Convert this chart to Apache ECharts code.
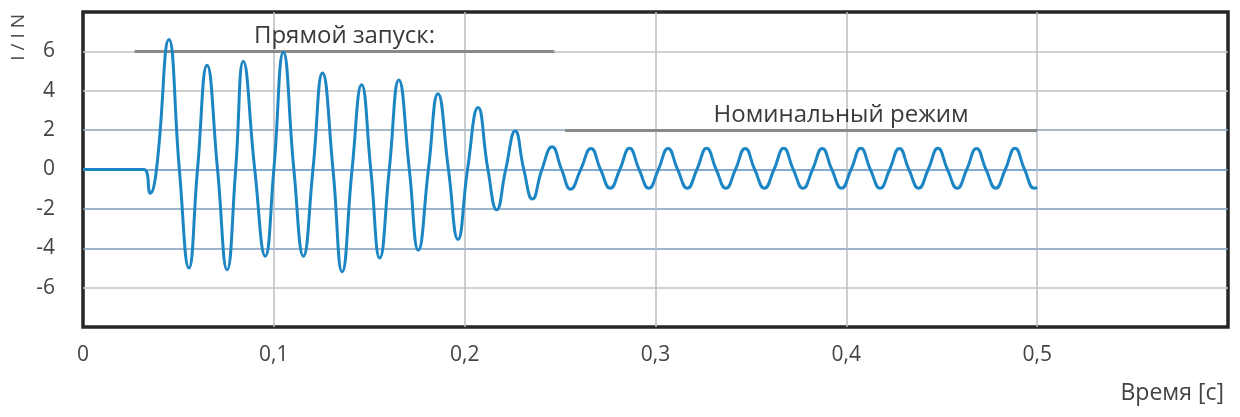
<!DOCTYPE html>
<html>
<head>
<meta charset="utf-8">
<script src="https://cdn.jsdelivr.net/npm/echarts@6/dist/echarts.min.js"></script>
<style>
html,body{margin:0;padding:0;background:#fff;}
#chart{width:1240px;height:417px;}
</style>
</head>
<body>
<div id="chart"></div>
<script>
// ---- data ----
const timeS = [
  0, 0.032, 0.0352, 0.0385, 0.045, 0.0505, 0.0555, 0.060, 0.065, 0.0705,
  0.0755, 0.080, 0.084, 0.090, 0.0955, 0.100, 0.105, 0.1105, 0.1155, 0.1205,
  0.1255, 0.131, 0.1358, 0.141, 0.146, 0.1508, 0.1555, 0.1605, 0.1655, 0.171,
  0.1757, 0.181, 0.186, 0.1915, 0.1965, 0.2015, 0.207, 0.2122, 0.2168, 0.2215,
  0.2265, 0.231, 0.2355, 0.2405, 0.2458, 0.2508, 0.2555, 0.2608,
  0.2662, 0.2712, 0.2763, 0.2813,
  0.2864, 0.2914, 0.2965, 0.3015,
  0.3066, 0.3116, 0.3167, 0.3217,
  0.3268, 0.3318, 0.3369, 0.3419,
  0.3470, 0.3520, 0.3571, 0.3621,
  0.3672, 0.3722, 0.3773, 0.3823,
  0.3874, 0.3924, 0.3975, 0.4025,
  0.4076, 0.4126, 0.4177, 0.4227,
  0.4278, 0.4328, 0.4379, 0.4429,
  0.4480, 0.4530, 0.4581, 0.4631,
  0.4682, 0.4732, 0.4783, 0.4833,
  0.4884, 0.4934, 0.4985, 0.5000
];
const currentIn = [
  0, 0, -1.2, 0, 6.6, 0, -5.0, 0, 5.3, 0,
  -5.1, 0, 5.5, 0, -4.4, 0, 5.95, 0, -4.4, 0,
  4.9, 0, -5.2, 0, 4.3, 0, -4.5, 0, 4.55, 0,
  -4.1, 0, 3.85, 0, -3.55, 0, 3.15, 0, -2.05, 0,
  1.95, 0, -1.5, 0, 1.15, 0, -1.0, 0,
  1.07, 0, -0.95, 0,
  1.08, 0, -0.95, 0,
  1.07, 0, -0.95, 0,
  1.08, 0, -0.95, 0,
  1.07, 0, -0.95, 0,
  1.08, 0, -0.95, 0,
  1.07, 0, -0.95, 0,
  1.08, 0, -0.95, 0,
  1.07, 0, -0.95, 0,
  1.08, 0, -0.95, 0,
  1.07, 0, -0.95, 0,
  1.08, 0, -0.95, -0.93
];
const xTickValues = [0, 0.1, 0.2, 0.3, 0.4, 0.5, 0.6];
const xTickLabels = ['0', '0,1', '0,2', '0,3', '0,4', '0,5', ''];
const yTickValues = [-8, -6, -4, -2, 0, 2, 4, 6, 8];
const yTickLabels = ['', '-6', '-4', '-2', '0', '2', '4', '6', ''];
const annotationTexts = ['Прямой запуск:', 'Номинальный режим'];
const annotationStart = [0.027, 0.2526];
const annotationEnd = [0.247, 0.5];
const annotationLevel = [6, 2];
const yAxisTitle = 'I / I N';
const xAxisTitle = 'Время [с]';

// ---- chart ----
const seriesData = timeS.map((t, i) => [t, currentIn[i]]);
const FONT = 'Open Sans';
const chart = echarts.init(document.getElementById('chart'), null, {renderer: 'canvas'});

const markLines = annotationTexts.map((txt, i) => ([
  {coord: [annotationStart[i], annotationLevel[i]],
   label: {show: true, formatter: txt, position: 'insideMiddleTop', distance: 3,
           offset: i === 1 ? [40, 0] : [0, 0],
           color: '#3a3a3a', fontSize: 24, fontFamily: FONT}},
  {coord: [annotationEnd[i], annotationLevel[i]]}
]));

chart.setOption({
  animation: false,
  backgroundColor: '#ffffff',
  grid: {left: 83, right: 12, top: 12, bottom: 90, show: true,
         borderColor: '#262626', borderWidth: 3.5, backgroundColor: 'transparent'},
  xAxis: {
    type: 'value', min: 0, max: 0.6, interval: 0.1,
    axisLine: {show: false}, axisTick: {show: false},
    axisLabel: {margin: 18, color: '#444', fontSize: 21, fontFamily: FONT,
      formatter: v => { const k = xTickValues.findIndex(x => Math.abs(x - v) < 1e-6); return k >= 0 ? xTickLabels[k] : ''; }},
    splitLine: {show: true, showMinLine: false, showMaxLine: false,
      lineStyle: {color: '#b9bcc2', width: 1.5}}
  },
  yAxis: {
    type: 'value', min: -8, max: 8, interval: 2,
    axisLine: {show: false}, axisTick: {show: false},
    axisLabel: {margin: 28, color: '#444', fontSize: 21, fontFamily: FONT,
      formatter: v => { const k = yTickValues.indexOf(v); return k >= 0 ? yTickLabels[k] : ''; }},
    splitLine: {show: true, showMinLine: false, showMaxLine: false, lineStyle: {width: 1.5,
      color: ['#c2c2c2', '#7f9cbc', '#7f9cbc', '#5d8fc2', '#8aa2bd', '#c2c2c2', '#c2c2c2']}}
  },
  graphic: [
    {type: 'text', left: 9, top: 14, rotation: Math.PI / 2,
     style: {text: yAxisTitle, fill: '#4a4a4a', fontSize: 19, fontFamily: FONT}},
    {type: 'text', right: 16, top: 382,
     style: {text: xAxisTitle, fill: '#444', fontSize: 23, fontFamily: FONT}}
  ],
  series: [{
    type: 'line',
    data: seriesData,
    smooth: 0.5,
    showSymbol: false,
    lineStyle: {color: '#1c86c4', width: 3},
    z: 3,
    markLine: {
      silent: true, symbol: 'none', z: 2,
      lineStyle: {color: '#8a8a8a', width: 3, type: 'solid'},
      data: markLines
    }
  }]
});
</script>
</body>
</html>
